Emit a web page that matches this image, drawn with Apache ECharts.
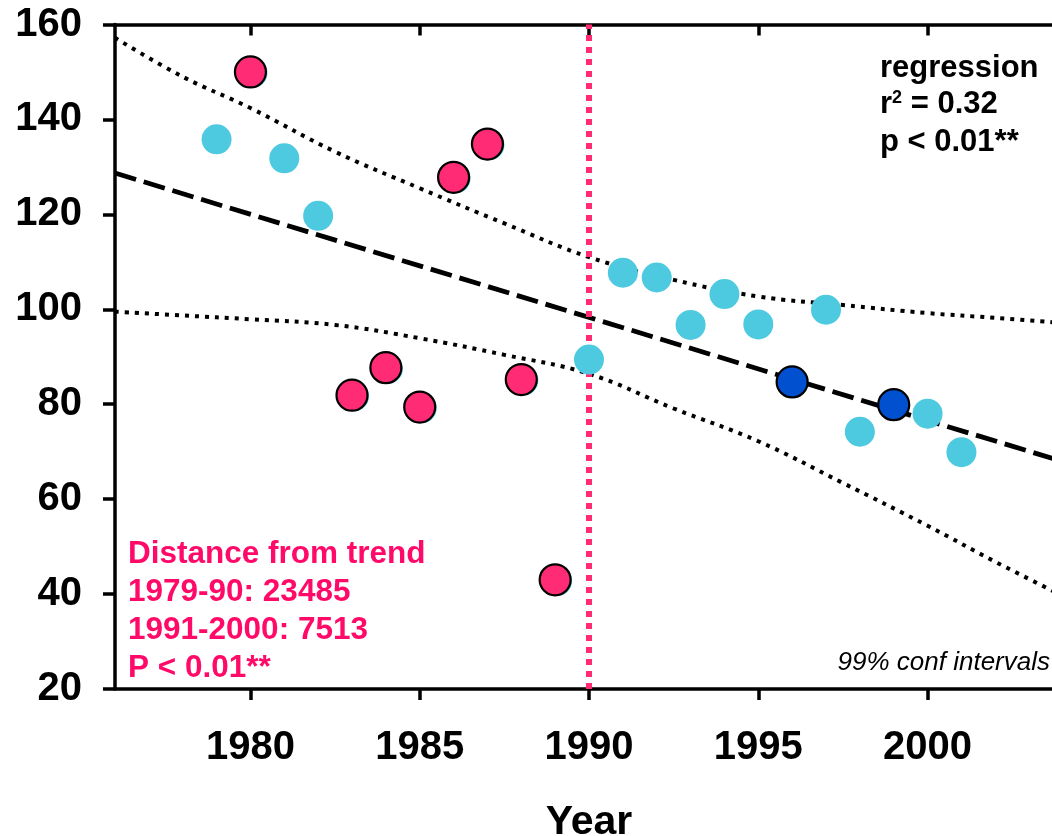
<!DOCTYPE html>
<html>
<head>
<meta charset="utf-8">
<script src="https://cdn.jsdelivr.net/npm/echarts@6/dist/echarts.min.js"></script>
<style>
  html, body { margin: 0; padding: 0; background: #ffffff; }
  #chart { width: 1052px; height: 836px; }
</style>
</head>
<body>
<div id="chart"></div>
<script>
// Yearly values, split by period
const earlyYears = [1980, 1983, 1984, 1985, 1986, 1987, 1988, 1989];
const earlyValues = [150, 81.9, 87.7, 79.4, 127.8, 134.8, 85.2, 43.0];

const cyanYears = [1979, 1981, 1982, 1990, 1991, 1992, 1993, 1994, 1995, 1997, 1998, 2000, 2001];
const cyanValues = [135.8, 131.8, 119.7, 89.4, 107.7, 106.7, 96.7, 103.2, 96.8, 99.9, 74.2, 78.0, 69.9];

const blueYears = [1996, 1999];
const blueValues = [84.7, 79.9];

// Regression trend, endpoints
const trendYears = [1976, 2004];
const trendValues = [128.7, 67.9];

// 99% confidence band
const bandYears = [1976, 1978, 1980, 1982.5, 1985, 1987.5, 1990, 1992.5, 1995, 1997.5, 2000, 2002, 2004];
const bandUpper = [157.2, 149.0, 142.4, 133.2, 125.5, 118.1, 111.0, 106.2, 102.7, 100.9, 99.2, 98.2, 97.1];
const bandLower = [99.5, 98.7, 97.9, 96.7, 93.9, 90.4, 86.4, 79.1, 72.2, 63.4, 54.4, 46.8, 39.6];

// Period split marker
const splitYear = 1990;

// Axis ticks
const xTicks = [1980, 1985, 1990, 1995, 2000];
const yTicks = [20, 40, 60, 80, 100, 120, 140, 160];

const X_MIN = 1976, X_MAX = 2004;

const PINK = '#ff2b74';
const CYAN = '#4ecae0';
const BLUE = '#0050d0';
const TEXT_PINK = '#ff0a68';
const FONT = '"Liberation Sans", Arial, Helvetica, sans-serif';

const zip = (xs, ys) => xs.map((x, i) => [x, ys[i]]);

const chart = echarts.init(document.getElementById('chart'), null, { renderer: 'canvas' });

const axisLine = { show: true, lineStyle: { color: '#000', width: 3.5 } };
const tickStyle = { color: '#000', width: 3.5 };

const option = {
  animation: false,
  backgroundColor: '#ffffff',
  grid: {
    left: 115, top: 24.5, right: -11, bottom: 147,
    containLabel: false, outerBoundsMode: 'none'
  },
  xAxis: [
    {
      type: 'value', position: 'bottom',
      min: X_MIN, max: X_MAX,
      axisLine: axisLine,
      axisTick: { show: true, inside: false, length: 11, lineStyle: tickStyle, customValues: xTicks },
      axisLabel: {
        show: true, margin: 39, customValues: xTicks,
        fontFamily: FONT, fontWeight: 'bold', fontSize: 40, color: '#000',
        formatter: v => String(v)
      },
      splitLine: { show: false },
      name: 'Year', nameLocation: 'middle', nameGap: 113,
      nameTextStyle: { fontFamily: FONT, fontWeight: 'bold', fontSize: 41, color: '#000' }
    },
    {
      type: 'value', position: 'top',
      min: X_MIN, max: X_MAX,
      axisLine: axisLine,
      axisTick: { show: true, inside: true, length: 11, lineStyle: tickStyle, customValues: xTicks },
      axisLabel: { show: false },
      splitLine: { show: false }
    }
  ],
  yAxis: {
    type: 'value', min: 20, max: 160, interval: 20,
    axisLine: axisLine,
    axisTick: { show: true, inside: false, length: 12, lineStyle: tickStyle },
    axisLabel: {
      margin: 33, fontFamily: FONT, fontWeight: 'bold', fontSize: 40, color: '#000',
      formatter: v => (yTicks.indexOf(v) >= 0 ? String(v) : '')
    },
    splitLine: { show: false }
  },
  series: [
    {
      name: 'upper99', type: 'line', xAxisIndex: 0, smooth: 0.4, symbol: 'none',
      data: zip(bandYears, bandUpper),
      lineStyle: { color: '#000', width: 4, type: [4, 6], cap: 'butt' },
      z: 2
    },
    {
      name: 'lower99', type: 'line', xAxisIndex: 0, smooth: 0.4, symbol: 'none',
      data: zip(bandYears, bandLower),
      lineStyle: { color: '#000', width: 4, type: [4, 6], cap: 'butt' },
      z: 2
    },
    {
      name: 'trend', type: 'line', xAxisIndex: 0, symbol: 'none',
      data: zip(trendYears, trendValues),
      lineStyle: { color: '#000', width: 4.8, type: [22, 8] },
      z: 3
    },
    {
      name: 'split', type: 'line', xAxisIndex: 0, symbol: 'none',
      data: [[splitYear, 20], [splitYear, 160]],
      lineStyle: { color: PINK, width: 6, type: [6, 6] },
      z: 3
    },
    {
      // cyan rim peeking out behind the early points
      name: 'earlyRim', type: 'scatter', xAxisIndex: 0,
      data: zip(earlyYears, earlyValues),
      symbolSize: 30, symbolOffset: [2, 1],
      itemStyle: { color: CYAN, opacity: 1 },
      z: 4
    },
    {
      name: 'cyan', type: 'scatter', xAxisIndex: 0,
      data: zip(cyanYears, cyanValues),
      symbolSize: 30,
      itemStyle: { color: CYAN, opacity: 1 },
      z: 5
    },
    {
      name: 'early', type: 'scatter', xAxisIndex: 0,
      data: zip(earlyYears, earlyValues),
      symbolSize: 31,
      itemStyle: { color: PINK, borderColor: '#000', borderWidth: 2.2, opacity: 1 },
      z: 6
    },
    {
      name: 'blue', type: 'scatter', xAxisIndex: 0,
      data: zip(blueYears, blueValues),
      symbolSize: 31,
      itemStyle: { color: BLUE, borderColor: '#000', borderWidth: 2.2, opacity: 1 },
      z: 6
    }
  ],
  graphic: [
    {
      type: 'text', left: 880, top: 53, z: 10,
      style: {
        text: 'regression', fontFamily: FONT, fontWeight: 'bold', fontSize: 31, fill: '#000'
      }
    },
    {
      type: 'text', left: 880, top: 89, z: 10,
      style: {
        rich: {
          b: { fontFamily: FONT, fontWeight: 'bold', fontSize: 31, fill: '#000' },
          sup: { fontFamily: FONT, fontWeight: 'bold', fontSize: 18, fill: '#000', verticalAlign: 'top', padding: [0, 0, 13, 0] }
        },
        text: '{b|r}{sup|2}{b| = 0.32}'
      }
    },
    {
      type: 'text', left: 880, top: 127, z: 10,
      style: {
        text: 'p < 0.01**', fontFamily: FONT, fontWeight: 'bold', fontSize: 31, fill: '#000'
      }
    },
    {
      type: 'text', left: 128, top: 535, z: 10,
      style: {
        text: 'Distance from trend\n1979-90: 23485\n1991-2000: 7513\nP < 0.01**',
        fontFamily: FONT, fontWeight: 'bold', fontSize: 31.5, lineHeight: 38, fill: TEXT_PINK
      }
    },
    {
      type: 'text', right: 2, top: 650, z: 10,
      style: {
        text: '99% conf intervals', fontFamily: FONT, fontStyle: 'italic', fontSize: 26, fill: '#000',
        align: 'right'
      }
    }
  ]
};

chart.setOption(option);
</script>
</body>
</html>
